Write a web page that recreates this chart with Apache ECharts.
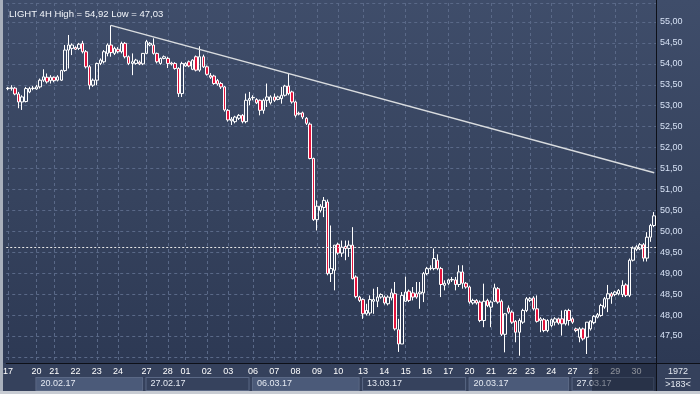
<!DOCTYPE html>
<html><head><meta charset="utf-8">
<script src="https://cdn.jsdelivr.net/npm/echarts@6/dist/echarts.min.js"></script>
<style>html,body{margin:0;padding:0;background:#2f3b57;}#c{width:700px;height:394px;}</style>
</head><body><div id="c"></div>
<script>
// ---- data (LIGHT, 4H bars) ----
const open = [
53.41,53.41,53.42,53.28,53.09,53.10,53.33,53.41,53.40,53.45,
53.61,53.68,53.60,53.68,53.61,53.61,53.84,54.33,54.37,54.39,
54.37,54.49,54.29,53.93,53.49,53.61,54.01,54.05,54.25,54.45,
54.25,54.35,54.29,54.49,54.17,54.01,54.01,54.04,54.00,54.25,
54.45,54.45,54.25,54.01,54.13,54.13,54.02,54.01,53.89,53.29,
53.95,54.05,53.87,54.17,53.85,54.17,53.93,53.72,53.71,53.60,
53.53,53.45,52.89,52.64,52.62,52.70,52.77,52.62,53.13,53.19,
53.15,53.13,52.89,53.13,53.07,53.21,53.15,53.17,53.25,53.47,
53.33,53.09,52.82,52.83,52.70,52.56,51.74,50.28,50.50,50.57,
50.70,48.99,49.07,49.69,49.48,49.64,49.59,49.67,48.91,48.43,
48.37,48.03,48.05,48.33,48.33,48.43,48.43,48.27,48.41,48.51,
47.65,47.31,48.33,48.57,48.53,48.51,48.51,48.53,48.99,49.11,
49.11,49.31,49.11,48.71,48.76,48.84,48.84,48.73,49.03,48.76,
48.67,48.29,48.35,48.31,47.87,48.35,48.19,48.33,48.63,48.33,
47.54,48.17,48.07,47.85,47.59,47.83,48.11,48.35,48.41,48.15,
47.87,47.89,47.63,47.75,47.83,47.91,47.91,47.79,48.11,47.91,
47.67,47.47,47.67,47.47,47.67,47.82,47.95,47.99,48.19,48.39,
48.51,48.49,48.51,48.49,48.72,48.47,49.31,49.57,49.58,49.68,
49.36,49.86,50.14];
const close = [
53.42,53.43,53.28,53.09,53.21,53.41,53.41,53.42,53.45,53.61,
53.69,53.57,53.68,53.60,53.69,53.84,54.33,54.45,54.45,54.35,
54.47,54.29,53.93,53.49,53.61,54.01,54.09,54.29,54.45,54.27,
54.37,54.29,54.49,54.17,54.01,54.05,54.09,54.00,54.25,54.53,
54.49,54.25,54.05,54.13,54.17,54.01,54.00,53.89,53.29,54.01,
54.01,53.95,54.09,53.85,54.17,53.93,53.75,53.68,53.53,53.52,
53.45,52.90,52.66,52.68,52.73,52.77,52.62,53.13,53.17,53.20,
53.07,52.89,53.13,53.21,53.21,53.13,53.21,53.25,53.47,53.29,
53.09,52.77,52.80,52.73,52.58,51.74,50.28,50.60,50.60,50.74,
48.99,49.11,49.67,49.48,49.62,49.59,49.67,48.87,48.44,48.35,
48.03,48.11,48.37,48.37,48.43,48.49,48.29,48.43,48.53,47.67,
47.31,48.47,48.55,48.35,48.43,48.43,48.55,48.99,49.11,49.12,
49.35,49.11,48.73,48.76,48.84,48.85,48.73,49.03,48.76,48.67,
48.31,48.35,48.29,47.87,48.33,48.23,48.31,48.65,48.31,47.54,
48.03,48.07,47.83,47.59,47.87,48.11,48.39,48.39,48.15,47.85,
47.91,47.63,47.87,47.89,47.91,47.81,47.79,48.11,47.87,47.83,
47.63,47.67,47.43,47.83,47.86,47.97,48.01,48.23,48.39,48.51,
48.45,48.55,48.59,48.71,48.47,49.31,49.60,49.63,49.68,49.36,
49.86,50.14,50.37];
const low = [
53.37,53.36,53.25,52.94,52.90,53.08,53.30,53.37,53.38,53.41,
53.57,53.53,53.53,53.56,53.58,53.59,53.81,53.89,54.21,54.33,
54.33,54.25,53.89,53.39,53.45,53.49,53.97,54.01,54.18,54.17,
54.21,54.25,54.25,54.13,53.97,53.73,53.98,53.97,53.97,54.23,
54.42,54.22,54.01,53.98,54.11,53.90,53.96,53.86,53.21,53.21,
53.93,53.92,53.85,53.82,53.81,53.90,53.72,53.64,53.50,53.48,
53.40,52.86,52.62,52.54,52.58,52.66,52.58,52.58,53.01,53.13,
53.04,52.77,52.81,52.97,53.03,53.09,53.13,53.05,53.22,53.25,
53.05,52.72,52.77,52.68,52.54,51.72,50.25,50.02,50.45,50.34,
48.95,48.79,48.59,49.44,49.39,49.31,49.39,48.85,48.40,48.31,
47.91,47.99,47.99,48.03,48.19,48.39,48.25,48.23,48.35,47.63,
47.12,47.31,48.31,48.31,48.35,48.39,48.15,48.31,48.95,49.07,
49.07,49.07,48.43,48.59,48.72,48.79,48.59,48.67,48.63,48.63,
48.27,48.25,48.25,47.83,47.71,48.19,47.71,48.31,48.27,47.50,
47.11,48.03,47.79,47.35,47.03,47.79,48.07,48.31,48.11,47.82,
47.59,47.59,47.59,47.71,47.75,47.77,47.51,47.75,47.75,47.79,
47.59,47.35,47.39,47.07,47.63,47.78,47.92,47.96,48.15,48.07,
48.27,48.45,48.47,48.43,48.43,48.43,49.28,49.53,49.55,49.28,
49.28,49.75,50.10];
const high = [
53.45,53.49,53.45,53.33,53.25,53.45,53.45,53.47,53.50,53.65,
53.87,53.77,53.73,53.70,53.73,53.86,54.45,54.69,54.49,54.42,
54.50,54.55,54.33,53.97,53.65,54.03,54.13,54.33,54.49,54.92,
54.41,54.40,54.53,54.52,54.20,54.25,54.12,54.08,54.26,54.57,
54.52,54.61,54.27,54.15,54.20,54.17,54.05,54.04,53.92,54.05,
54.04,54.08,54.11,54.20,54.42,54.22,53.96,53.78,53.74,53.64,
53.57,53.47,52.92,52.73,52.76,52.80,52.80,53.29,53.33,53.25,
53.18,53.15,53.17,53.53,53.25,53.29,53.24,53.45,53.50,53.76,
53.36,53.12,52.86,52.86,52.73,52.60,51.76,50.74,50.65,50.82,
50.76,50.14,49.67,49.73,49.78,49.78,49.78,50.10,48.95,48.46,
48.40,48.27,48.47,48.63,48.67,48.52,48.47,48.47,48.63,48.79,
47.91,48.55,48.92,48.61,48.67,48.79,48.79,49.03,49.15,49.19,
49.59,49.45,49.15,48.83,48.87,48.91,48.91,49.19,49.19,48.79,
48.70,48.39,48.38,48.35,48.75,48.39,48.35,48.75,48.67,48.37,
48.05,48.23,48.11,47.88,47.92,48.15,48.43,48.43,48.45,48.47,
47.95,47.93,47.90,47.92,47.95,47.94,48.11,48.13,48.15,47.95,
47.70,47.71,47.70,47.83,47.87,48.00,48.05,48.27,48.43,48.72,
48.55,48.58,48.62,48.83,48.76,49.35,49.64,49.67,49.72,49.72,
49.98,50.18,50.46];

const dayStarts = [0,8,13,19,25,31,39,45,50,56,62,69,75,81,87,93,100,106,112,118,124,130,136,142,147,153,159,165,171,177];
const dayNames  = ['17','20','21','22','23','24','27','28','01','02','03','06','07','08','09','10','13','14','15','16','17','20','21','22','23','24','27','28','29','30'];
const weekStarts = [8,39,69,100,130,159];
const weekNames  = ['20.02.17','27.02.17','06.03.17','13.03.17','20.03.17','27.03.17'];
const trendFrom = [29, 54.92];
const trendTo   = [182, 51.40];
const levelLine = 49.62;
const symbolName = 'LIGHT 4H';
const barsTotal = '1972';
const barsVisible = '>183<';

// ---- chart ----
const N = open.length;
const fmt = v => v.toFixed(2).replace('.', ',');
const cats = open.map((_, i) => 'b' + i);
const dayMap = {}; dayStarts.forEach((s, k) => dayMap[s] = dayNames[k]);
const weekMap = {}; weekStarts.forEach((s, k) => weekMap[s] = k);
const ohlc = open.map((o, i) => [o, close[i], low[i], high[i]]);
const hi = Math.max(...high), lo = Math.min(...low);
const last = close[N - 1];

const GL = 3, GR = 44, GT = 3, GB = 31, W = 700, H = 394;
const band = (W - GL - GR) / N;
const rich = {};
weekStarts.forEach((s, k) => {
  const e = k + 1 < weekStarts.length ? weekStarts[k + 1] : N;
  rich['w' + k] = {
    width: (e - s) * band - 9, height: 12, lineHeight: 12,
    padding: [0, 0, 0, 4], fontSize: 9, color: '#e4e9f2',
    backgroundColor: k % 2 === 0 ? '#4b5a79' : '#36425d',
    borderColor: '#5a6885', borderWidth: 1
  };
});
// price range mapped to the plot box: 55.00 at y=22, 47.50 at y=336
const pxPerUnit = (336 - 22) / 7.5;
const yMax = 55 + (22 - GT) / pxPerUnit;
const yMin = 47.5 - (H - GB - 336) / pxPerUnit;

const gridLine = {color: '#5a6988', type: [3, 3], width: 1};
const chart = echarts.init(document.getElementById('c'), null, {renderer: 'canvas'});
chart.setOption({
  animation: false,
  backgroundColor: {type: 'linear', x: 0, y: 0, x2: 0, y2: 1, colorStops: [
    {offset: 0, color: '#3f4d6a'}, {offset: 0.5, color: '#36435e'},
    {offset: 0.92, color: '#2d3954'}, {offset: 0.9215, color: '#35415c'}, {offset: 1, color: '#35415c'}]},
  textStyle: {fontFamily: 'Liberation Sans'},
  title: {text: symbolName + ' High = ' + fmt(hi) + ' Low = ' + fmt(lo), left: 4, top: 4,
    textStyle: {fontSize: 9.5, fontWeight: 'normal', color: '#f2f5fa', fontFamily: 'Liberation Sans'}},
  grid: {left: GL, right: GR, top: GT, bottom: GB, containLabel: false},
  xAxis: [{
    type: 'category', data: cats, boundaryGap: true,
    axisLine: {show: true, lineStyle: {color: '#0d1018', width: 1}},
    axisTick: {show: false},
    axisLabel: {interval: (i) => dayMap[i] !== undefined, formatter: (v, i) => dayMap[i] || '',
      color: '#ffffff', fontSize: 9, margin: 4, showMinLabel: true, showMaxLabel: true},
    splitLine: {show: true, interval: (i) => dayMap[i] !== undefined, alignWithLabel: true, lineStyle: gridLine}
  }, {
    type: 'category', data: cats, boundaryGap: true, position: 'bottom', offset: 15,
    axisLine: {show: false}, axisTick: {show: false}, splitLine: {show: false},
    axisLabel: {interval: (i) => weekMap[i] !== undefined, align: 'left', margin: 0,
      showMinLabel: true, showMaxLabel: true, hideOverlap: false,
      formatter: (v, i) => weekMap[i] === undefined ? '' : '{w' + weekMap[i] + '|' + weekNames[weekMap[i]] + '}',
      rich: rich}
  }],
  yAxis: {
    type: 'value', position: 'right', min: yMin, max: yMax, minInterval: 0.5, maxInterval: 0.5,
    axisLine: {show: true, lineStyle: {color: '#0d1018', width: 1}},
    axisTick: {show: false},
    axisLabel: {color: '#d6e1f4', fontSize: 9, margin: 4, showMinLabel: false, showMaxLabel: false,
      formatter: v => (v < 47.25 || v > 55.25) ? '' : fmt(v)},
    splitLine: {show: true, lineStyle: gridLine}
  },
  series: [{
    type: 'candlestick', data: ohlc, barWidth: 3,
    itemStyle: {color: 'transparent', color0: '#e3133c', borderColor: '#ffffff', borderColor0: '#ffffff', borderWidth: 1},
    markLine: {
      silent: true, symbol: ['none', 'none'], animation: false,
      label: {show: false},
      data: [
        [{coord: trendFrom}, {coord: trendTo, lineStyle: {color: '#d9dcdf', width: 1.5, type: 'solid'}}],
        {yAxis: levelLine, lineStyle: {color: '#e8e8e8', width: 1, type: [2, 2]}},
        {yAxis: last, lineStyle: {opacity: 0},
          label: {show: true, position: 'end', distance: 1, formatter: fmt(last), fontSize: 9,
            color: '#15181f', backgroundColor: '#c9cdd5', padding: [1, 12, 0, 4], lineHeight: 10}}
      ]
    }
  }],
  graphic: [
    {type: 'rect', shape: {x: 592, y: 364, width: 64, height: 27}, style: {fill: 'rgba(26,33,52,0.5)'}, z: 100},
    {type: 'line', shape: {x1: 656.5, y1: 0, x2: 656.5, y2: 391}, style: {stroke: '#0d1018', lineWidth: 1}, z: 100},
    {type: 'line', shape: {x1: 656, y1: 363.5, x2: 700, y2: 363.5}, style: {stroke: '#0d1018', lineWidth: 1}, z: 100},
    {type: 'text', x: 678, y: 372, style: {text: barsTotal, fill: '#e3e8f0', font: '9px "Liberation Sans"', align: 'center', verticalAlign: 'middle'}, z: 100},
    {type: 'line', shape: {x1: 665, y1: 378.5, x2: 691, y2: 378.5}, style: {stroke: '#aab2c2', lineWidth: 1}, z: 100},
    {type: 'text', x: 678, y: 385, style: {text: barsVisible, fill: '#e3e8f0', font: '9px "Liberation Sans"', align: 'center', verticalAlign: 'middle'}, z: 100},
    {type: 'rect', shape: {x: 0, y: 0, width: 3, height: 394}, style: {fill: '#a9b0bc'}, z: 101},
    {type: 'rect', shape: {x: 0, y: 391, width: 700, height: 3}, style: {fill: '#c8ccd3'}, z: 101}
  ]
});
</script></body></html>
